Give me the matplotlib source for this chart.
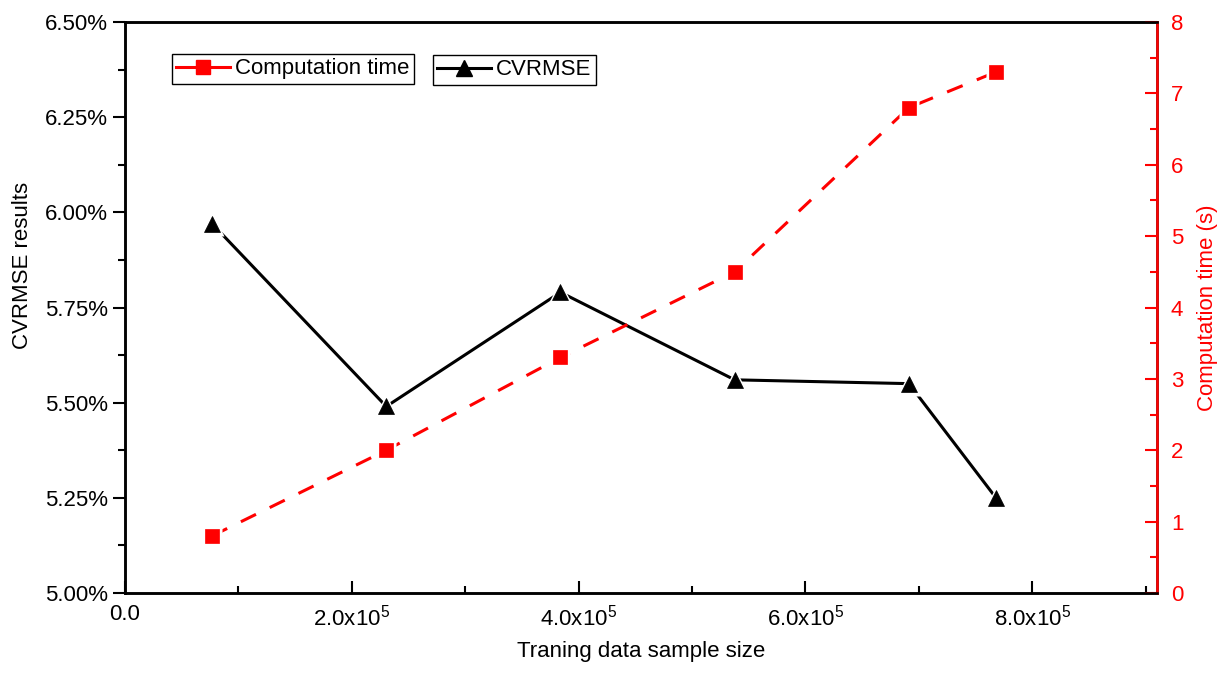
import matplotlib
matplotlib.use("Agg")
import matplotlib.pyplot as plt
from matplotlib.lines import Line2D
from matplotlib.ticker import MultipleLocator, FuncFormatter

plt.rcParams['font.family'] = ['Liberation Sans', 'DejaVu Sans']
plt.rcParams['mathtext.fontset'] = 'custom'
plt.rcParams['mathtext.rm'] = 'Liberation Sans'
plt.rcParams['mathtext.it'] = 'Liberation Sans:italic'
plt.rcParams['mathtext.bf'] = 'Liberation Sans:bold'

# Data
sample_size = [76800, 230400, 384000, 537600, 691200, 768000]
computation_time = [0.8, 2.0, 3.3, 4.5, 6.8, 7.3]
cvrmse = [5.97, 5.49, 5.79, 5.56, 5.55, 5.25]
x_ticks = [0, 2e5, 4e5, 6e5, 8e5]
x_ticklabels = ["0.0", r"2.0x10$^{5}$", r"4.0x10$^{5}$", r"6.0x10$^{5}$", r"8.0x10$^{5}$"]

FS = 16
LW = 2.2
DASH = (0, (5.5, 5))
fig = plt.figure(figsize=(12.27, 6.73), dpi=100)
ax = fig.add_axes([125/1227, 1-593/673, (1157-125)/1227, (593-22)/673])
ax2 = ax.twinx()

# CVRMSE (left axis)
ax.plot(sample_size, cvrmse, color='black', lw=LW, zorder=2)
ax.plot(sample_size, cvrmse, ls='none', marker='^', markersize=17,
        markerfacecolor='white', markeredgecolor='none', zorder=3)
ax.plot(sample_size, cvrmse, ls='none', marker='^', markersize=11.5,
        markerfacecolor='black', markeredgecolor='black', markeredgewidth=0.5, zorder=4)

# Computation time (right axis)
ax2.plot(sample_size, computation_time, color='red', lw=LW, ls=DASH, zorder=2)
ax2.plot(sample_size, computation_time, ls='none', marker='s', markersize=15,
         markerfacecolor='white', markeredgecolor='none', zorder=3)
ax2.plot(sample_size, computation_time, ls='none', marker='s', markersize=10.5,
         markerfacecolor='red', markeredgecolor='red', markeredgewidth=0.5, zorder=4)

ax.set_xlim(0, 9.1e5)
ax.set_ylim(5.0, 6.5)
ax2.set_ylim(0, 8)

ax.set_xticks(x_ticks)
ax.set_xticklabels(x_ticklabels, fontsize=FS)
ax.xaxis.set_minor_locator(MultipleLocator(1e5))
ax.yaxis.set_major_locator(MultipleLocator(0.25))
ax.yaxis.set_minor_locator(MultipleLocator(0.125))
ax.yaxis.set_major_formatter(FuncFormatter(lambda v, p: f"{v:.2f}%"))
ax2.yaxis.set_major_locator(MultipleLocator(1))
ax2.yaxis.set_minor_locator(MultipleLocator(0.5))

for a in (ax, ax2):
    for s in a.spines.values():
        s.set_linewidth(1.8)

ax.tick_params(axis='x', which='both', direction='in', top=False, width=1.5, labelsize=FS, pad=8)
ax.tick_params(axis='x', which='major', length=9)
ax.tick_params(axis='x', which='minor', length=5)
ax.tick_params(axis='y', which='both', direction='out', width=1.5, labelsize=FS)
ax.tick_params(axis='y', which='major', length=9)
ax.tick_params(axis='y', which='minor', length=5)

ax2.spines['right'].set_color('red')
ax2.tick_params(axis='y', which='both', direction='in', colors='red', width=1.5, labelsize=FS, pad=10)
ax2.tick_params(axis='y', which='major', length=9)
ax2.tick_params(axis='y', which='minor', length=5)

ax.set_xlabel('Traning data sample size', fontsize=FS, labelpad=8)
ax.set_ylabel('CVRMSE results', fontsize=FS)
ax.yaxis.set_label_coords(-0.089, (593-265)/571)
ax2.set_ylabel('Computation time (s)', fontsize=FS, color='red', labelpad=10)

h_ct = Line2D([], [], color='red', lw=LW, ls='-', marker='s', markersize=10.5,
              markerfacecolor='red', markeredgecolor='red', label='Computation time')
h_cv = Line2D([], [], color='black', lw=LW, ls='-', marker='^', markersize=11.5,
              markerfacecolor='black', markeredgecolor='black', label='CVRMSE')

leg_kw = dict(fontsize=FS, frameon=True, fancybox=False, framealpha=1, edgecolor='black',
              handlelength=2.4, handletextpad=0.25, borderpad=0.2, borderaxespad=0, numpoints=1)
leg1 = fig.legend(handles=[h_ct], loc='upper left', bbox_to_anchor=(172/1227, 1-54/673), **leg_kw)
leg2 = fig.legend(handles=[h_cv], loc='upper left', bbox_to_anchor=(433/1227, 1-55/673), **leg_kw)
for lg in (leg1, leg2):
    lg.get_frame().set_linewidth(1.0)

fig.savefig('out.png', dpi=100)
